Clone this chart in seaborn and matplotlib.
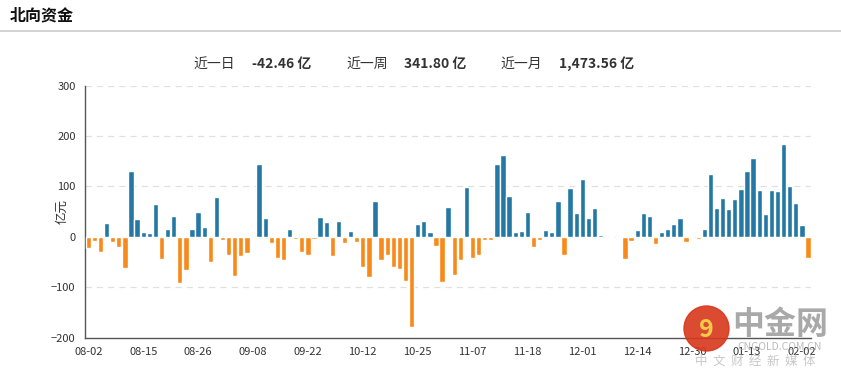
import numpy as np
import pandas as pd
import matplotlib
matplotlib.use("Agg")
import matplotlib.pyplot as plt
import seaborn as sns
from matplotlib.lines import Line2D
from matplotlib.patches import Ellipse

sns.set_style("white")
plt.rcParams['font.family'] = ['Noto Sans CJK SC', 'DejaVu Sans']

# daily northbound net flow (亿元), one value per trading slot
flows = [
    -23, -9, -31, 28, -11, -21, -62, 131, 36, 9, 7, 66, -44, 15, 42, -92, -66,
    15, 50, 20, -49, 78, -7, -37, -77, -39, -33, 0, 145, 38, -13, -41, -45, 15,
    -5, -31, -37, -5, 40, 30, -39, 32, -13, 12, -11, -59, -80, 72, -45, -37,
    -59, -63, -88, -178, 26, 32, 9, -19, -90, 60, -75, -45, 98, -41, -37, -7,
    -7, 145, 163, 80, 9, 12, 50, -21, -7, 14, 10, 72, -37, 96, 48, 114, 38,
    58, 4, 0, 0, -3, -43, -9, 14, 48, 42, -15, 10, 16, 26, 38, -11, 0, -5, 16,
    125, 58, 76, 56, 74, 94, 131, 157, 92, 46, 92, 90, 185, 100, 68, 24, -42.46,
]
tick_labels = ["08-02", "08-15", "08-26", "09-08", "09-22", "10-12", "10-25",
               "11-07", "11-18", "12-01", "12-14", "12-30", "01-13", "02-02"]
tick_step = 9

summary_names = ["近一日", "近一周", "近一月"]
summary_values = ["-42.46 亿", "341.80 亿", "1,473.56 亿"]

BLUE = "#2478a5"
ORANGE = "#f88a1b"

df = pd.DataFrame({"idx": np.arange(len(flows)), "value": flows})
df["dir"] = np.where(df["value"] >= 0, "in", "out")

W, H = 841, 378
fig = plt.figure(figsize=(W / 100, H / 100), dpi=100)
ax = fig.add_axes([85.3 / W, 1 - 337.7 / H, (811 - 85.3) / W, (337.7 - 85.5) / H])

sns.barplot(data=df, x="idx", y="value", hue="dir", palette={"in": BLUE, "out": ORANGE},
            dodge=False, width=0.87, saturation=1, legend=False, ax=ax, zorder=3)

ax.set_ylim(-200, 300)
ax.set_xlim(-0.5, len(flows) - 0.5)
ax.set_yticks([-200, -100, 0, 100, 200, 300])
ax.set_xticks(np.arange(0, len(flows), tick_step)[:len(tick_labels)])
ax.set_xticklabels(tick_labels)
ax.set_xlabel("")
ax.set_ylabel("")

for y in [-100, 0, 100, 200, 300]:
    ax.axhline(y, color="#e0e0e0", lw=0.9, ls=(0, (5, 4)), zorder=1)

for s in ["top", "right"]:
    ax.spines[s].set_visible(False)
for s in ["left", "bottom"]:
    ax.spines[s].set_color("#555555")
    ax.spines[s].set_linewidth(1.0)
ax.tick_params(axis="both", colors="#555555", length=4, width=1, labelsize=8,
               labelcolor="#333333", pad=3)

# header
fig.text(10 / W, 1 - 15 / H, "北向资金", fontsize=11.5, fontweight="bold", color="#111111",
         ha="left", va="center")
fig.add_artist(Line2D([0, 1], [1 - 31 / H] * 2, color="#cccccc", lw=1.2,
                      transform=fig.transFigure))

name_x = [193, 346, 500]
value_x = [252, 404, 559]
for nm, val, nx, vx in zip(summary_names, summary_values, name_x, value_x):
    fig.text(nx / W, 1 - 64 / H, nm, fontsize=10, color="#333333", ha="left", va="center")
    fig.text(vx / W, 1 - 64 / H, val, fontsize=10, fontweight="bold", color="#333333",
             ha="left", va="center")

fig.text(62 / W, 1 - 212 / H, "亿元", rotation=90, fontsize=9, color="#333333",
         ha="center", va="center")

# watermark
fig.add_artist(Ellipse((706.5 / W, 1 - 328.5 / H), 45 / W, 45 / H, color="#d8371c",
                       alpha=0.9, transform=fig.transFigure, zorder=5))
fig.text(706.5 / W, 1 - 330 / H, "9", fontsize=18, fontweight="bold", color="#f7c948",
         ha="center", va="center", zorder=6)
fig.text(780 / W, 1 - 325 / H, "中金网", fontsize=23, fontweight="bold", color="#9a9a9a",
         alpha=0.85, ha="center", va="center", zorder=6)
fig.text(780 / W, 1 - 347 / H, "CNGOLD.COM.CN", fontsize=7.5, color="#aaaaaa",
         alpha=0.8, ha="center", va="center", zorder=6)
fig.text(755 / W, 1 - 361 / H, "中  文  财  经  新  媒  体", fontsize=9, color="#bbbbbb",
         alpha=0.8, ha="center", va="center", zorder=6)

fig.savefig("out.png", dpi=100)
